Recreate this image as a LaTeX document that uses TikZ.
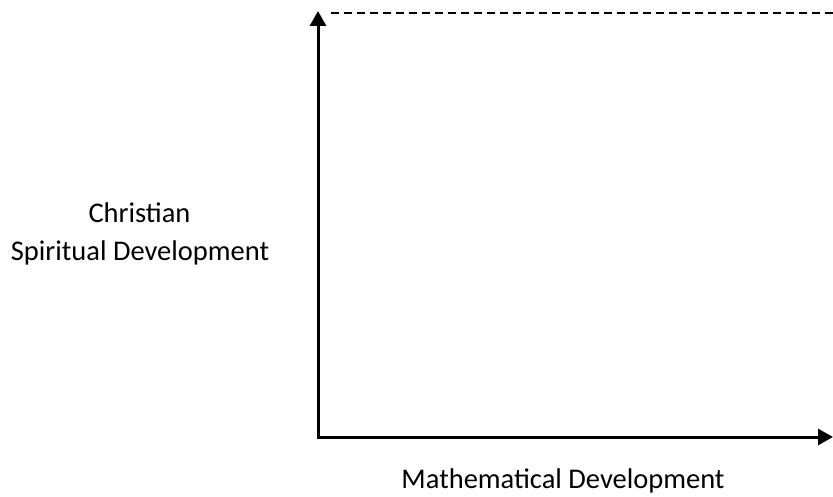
\documentclass[tikz,border=0pt]{standalone}
\usepackage{fontspec}
\setmainfont{Carlito}
\usetikzlibrary{arrows.meta}
\tikzset{
  axis/.style={line width=3pt, -{Triangle[length=15pt,width=16pt]}},
  guide/.style={line width=2.8pt, dash pattern=on 8pt off 5pt},
  lab/.style={anchor=base, inner sep=0pt, font=\fontsize{28.5}{34}\selectfont}
}
\begin{document}
\begin{tikzpicture}[x=1pt,y=-1pt]
\useasboundingbox (0,0) rectangle (833,497);
\coordinate (o) at (318,437);
\coordinate (ytop) at (318,11);
\coordinate (xend) at (833,437);
\coordinate (ds) at (331,13);
\coordinate (de) at (833,13);
\draw[axis] (o) -- (ytop);
\draw[axis] ([xshift=-1.5pt]o) -- (xend);
\draw[guide] (ds) -- (de);
\node[lab] (c1) at (139.5,223) {Christian};
\node[lab] (c2) at (140,261) {Spiritual Development};
\node[lab] (m) at (563,488) {Mathematical Development};
\end{tikzpicture}
\end{document}
